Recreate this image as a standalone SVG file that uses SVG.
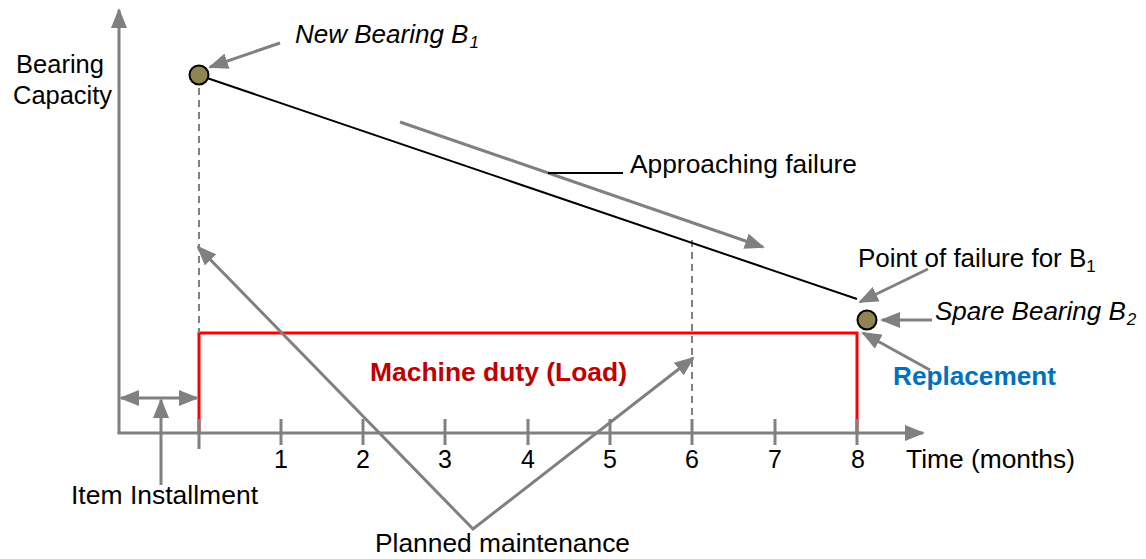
<svg xmlns="http://www.w3.org/2000/svg" width="1146" height="559" viewBox="0 0 1146 559">
<style>
text{font-family:"Liberation Sans",Arial,sans-serif;font-size:26px;fill:#000}
.it{font-style:italic}
.g{stroke:#808080;stroke-width:3;fill:none}
.tick{stroke:#808080;stroke-width:3}
.dash{stroke:#808080;stroke-width:2;stroke-dasharray:7 5;fill:none}
.bear{fill:#8E8551;stroke:#000;stroke-width:2}
.num{text-anchor:middle;font-size:25px}
.sub{font-size:17px}
</style>
<defs>
<marker id="ah" markerUnits="userSpaceOnUse" markerWidth="20" markerHeight="16" viewBox="0 0 20 16" refX="18" refY="8" orient="auto">
<path d="M0,0 L20,8 L0,16 Z" fill="#808080"/>
</marker>
<marker id="ahs" markerUnits="userSpaceOnUse" markerWidth="20" markerHeight="16" viewBox="0 0 20 16" refX="18" refY="8" orient="auto-start-reverse">
<path d="M0,0 L20,8 L0,16 Z" fill="#808080"/>
</marker>
</defs>

<g id="duty">
<path d="M199,433 V333 H857 V433" fill="none" stroke="#FF0000" stroke-width="3"/>
<text x="370" y="381" textLength="257" lengthAdjust="spacingAndGlyphs" style="font-weight:bold;fill:#C00000;font-size:25px">Machine duty (Load)</text>
</g>

<g id="guides">
<line class="dash" x1="199" y1="88" x2="199" y2="333"/>
<line class="dash" x1="692" y1="240" x2="692" y2="420"/>
</g>

<g id="axes">
<line class="g" x1="119" y1="433" x2="119" y2="10" marker-end="url(#ah)"/>
<line class="g" x1="117.5" y1="433" x2="923" y2="433" marker-end="url(#ah)"/>
<line class="tick" x1="199" y1="419" x2="199" y2="449"/>
<line class="tick" x1="281" y1="419" x2="281" y2="445"/>
<line class="tick" x1="363" y1="419" x2="363" y2="445"/>
<line class="tick" x1="445" y1="419" x2="445" y2="445"/>
<line class="tick" x1="528" y1="419" x2="528" y2="445"/>
<line class="tick" x1="610" y1="419" x2="610" y2="445"/>
<line class="tick" x1="692" y1="419" x2="692" y2="445"/>
<line class="tick" x1="775" y1="419" x2="775" y2="445"/>
<line class="tick" x1="857" y1="419" x2="857" y2="445"/>
<text class="num" x="281" y="468">1</text>
<text class="num" x="363" y="468">2</text>
<text class="num" x="445" y="468">3</text>
<text class="num" x="528" y="468">4</text>
<text class="num" x="610" y="468">5</text>
<text class="num" x="692" y="468">6</text>
<text class="num" x="775" y="468">7</text>
<text class="num" x="858" y="468">8</text>
<text x="906" y="468" textLength="169" lengthAdjust="spacingAndGlyphs">Time (months)</text>
<text x="16" y="73" textLength="88" lengthAdjust="spacingAndGlyphs">Bearing</text>
<text x="13" y="104" textLength="99" lengthAdjust="spacingAndGlyphs">Capacity</text>
</g>

<g id="capacity-line">
<line x1="207" y1="78" x2="857" y2="299" stroke="#000" stroke-width="2"/>
</g>

<g id="bearing1">
<circle class="bear" cx="199" cy="75" r="9.5"/>
<text class="it" x="295" y="43">New Bearing B<tspan class="sub" dx="1" dy="5">1</tspan></text>
</g>

<g id="bearing2">
<circle class="bear" cx="867" cy="320" r="9.5"/>
<text class="it" x="935" y="320">Spare Bearing B<tspan class="sub" dx="1" dy="5">2</tspan></text>
</g>

<g id="failure-label">
<text x="858" y="267">Point of failure for B<tspan class="sub" dy="5">1</tspan></text>
</g>

<g id="replacement-label">
<text x="893" y="385" textLength="163" lengthAdjust="spacingAndGlyphs" style="font-weight:bold;fill:#0070C0;font-size:25px">Replacement</text>
</g>

<g id="approach-label">
<text x="630" y="173" textLength="227" lengthAdjust="spacingAndGlyphs">Approaching failure</text>
</g>

<g id="install-label">
<text x="71" y="504" textLength="187" lengthAdjust="spacingAndGlyphs">Item Installment</text>
</g>

<g id="maintenance-label">
<text x="375" y="552" textLength="255" lengthAdjust="spacingAndGlyphs">Planned maintenance</text>
</g>

<g id="connectors">
<line class="g" x1="280" y1="43" x2="210" y2="67" marker-end="url(#ah)"/>
<line class="g" x1="400" y1="122" x2="763" y2="247" marker-end="url(#ah)"/>
<line x1="548" y1="173" x2="623" y2="173" stroke="#000" stroke-width="2"/>
<line class="g" x1="928" y1="269" x2="860" y2="302" marker-end="url(#ah)"/>
<line class="g" x1="932" y1="320" x2="882" y2="320" marker-end="url(#ah)"/>
<line class="g" x1="930" y1="370" x2="863" y2="333" marker-end="url(#ah)"/>
<line class="g" x1="121" y1="398" x2="197" y2="398" marker-start="url(#ahs)" marker-end="url(#ah)"/>
<line class="g" x1="161" y1="485" x2="161" y2="400" marker-end="url(#ah)"/>
<polyline class="g" points="198,247 473,529 693,358" marker-start="url(#ahs)" marker-end="url(#ah)"/>
</g>
</svg>
